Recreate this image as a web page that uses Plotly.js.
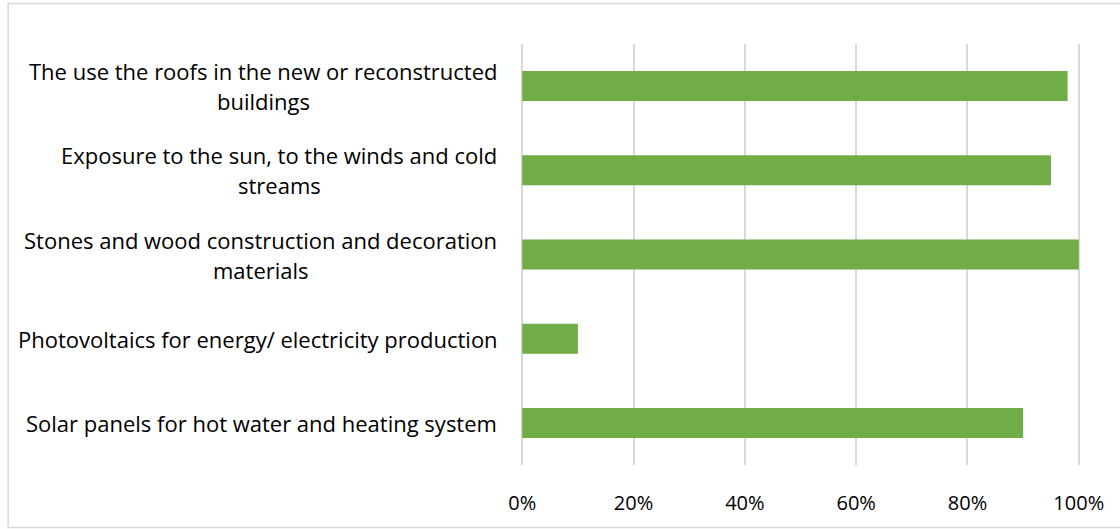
<!DOCTYPE html>
<html>
<head>
<meta charset="utf-8">
<script src="https://cdn.plot.ly/plotly-3.0.1.min.js"></script>
<style>
  html, body { margin: 0; padding: 0; background: #ffffff; }
  #chart { width: 1120px; height: 529px; }
</style>
</head>
<body>
<div id="chart"></div>
<script>
// Survey items, top to bottom; "\n" marks where a label wraps
const categories = [
  "The use the roofs in the new or reconstructed\nbuildings",
  "Exposure to the sun, to the winds and cold\nstreams",
  "Stones and wood construction and decoration\nmaterials",
  "Photovoltaics for energy/ electricity production",
  "Solar panels for hot water and heating system"
];
// Share of respondents (fraction of 1)
const shares = [0.98, 0.95, 1.00, 0.10, 0.90];
const tickValues = [0, 0.2, 0.4, 0.6, 0.8, 1.0];
const tickLabels = ["0%", "20%", "40%", "60%", "80%", "100%"];

const W = 1120, H = 529;
// 0% sits at x=522 px and 100% at x=1079 px; the range is padded a hair
// so the gridlines at both ends are still drawn
const X0 = 522, X1 = 1079, PAD = 0.004;
const unit = X1 - X0;
const margin = {
  l: X0 - unit * PAD,
  r: W - (X1 + unit * PAD),
  t: 44, b: 64, pad: 0
};
const plotW = W - margin.l - margin.r;
const plotH = H - margin.t - margin.b;
const FONT = "Open Sans, Noto Sans, sans-serif";
const LABEL_SIZE = 22;
const TICK_SIZE = 20;
const LINE_PX = 30;

// pixel -> paper helpers
const px2x = p => (p - margin.l) / plotW;
const py2y = p => (H - margin.b - p) / plotH;

const yIdx = categories.map((_, i) => i);

const data = [{
  type: "bar",
  orientation: "h",
  x: shares,
  y: yIdx,
  marker: { color: "#70AD47" },
  hoverinfo: "skip"
}];

// Category labels: centred multi-line blocks whose right edge is at x≈497 px
const measure = document.createElement("canvas").getContext("2d");
measure.font = LABEL_SIZE + "px " + FONT;
const rightEdge = 497;
const annotations = [];
categories.forEach((cat, i) => {
  const lines = cat.split("\n");
  const w = Math.max(...lines.map(l => measure.measureText(l).width));
  const centre = rightEdge - w / 2;
  lines.forEach((line, j) => {
    annotations.push({
      xref: "paper", yref: "y",
      x: px2x(centre), y: i,
      xanchor: "center", yanchor: "middle",
      yshift: ((lines.length - 1) / 2 - j) * LINE_PX,
      text: line,
      showarrow: false,
      font: { family: FONT, size: LABEL_SIZE, color: "#000000" }
    });
  });
});

const layout = {
  width: W, height: H,
  margin: margin,
  paper_bgcolor: "#ffffff",
  plot_bgcolor: "#ffffff",
  showlegend: false,
  bargap: 0.644,
  font: { family: FONT, size: TICK_SIZE, color: "#000000" },
  xaxis: {
    range: [-PAD, 1 + PAD],
    tickvals: tickValues,
    ticktext: tickLabels,
    showgrid: true,
    gridcolor: "#D9D9D9",
    gridwidth: 2,
    zeroline: false,
    showline: false,
    ticks: "",
    ticklabelstandoff: 24,
    tickfont: { family: FONT, size: TICK_SIZE, color: "#000000" },
    fixedrange: true
  },
  yaxis: {
    range: [4.5, -0.5],
    showticklabels: false,
    showgrid: false,
    zeroline: false,
    showline: false,
    ticks: "",
    fixedrange: true
  },
  annotations: annotations,
  shapes: [{
    type: "rect", xref: "paper", yref: "paper",
    x0: px2x(7.5), x1: px2x(1126),
    y0: py2y(527.5), y1: py2y(3.5),
    line: { color: "#D9D9D9", width: 1.5 },
    fillcolor: "rgba(0,0,0,0)",
    layer: "below"
  }]
};

Plotly.newPlot("chart", data, layout, { displayModeBar: false, staticPlot: true });
</script>
</body>
</html>
